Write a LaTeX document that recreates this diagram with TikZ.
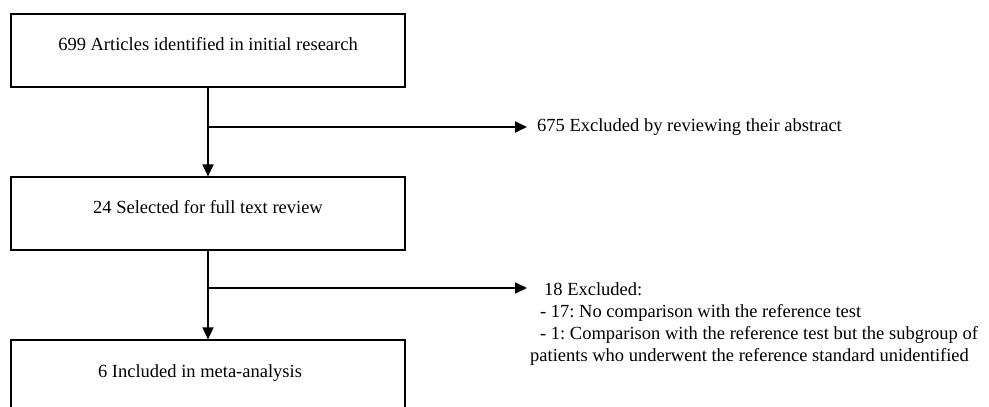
\documentclass[tikz,border=0pt]{standalone}
\usepackage{fontspec}
\setmainfont{Liberation Serif}
\usetikzlibrary{arrows.meta}
\frenchspacing
\begin{document}
\begin{tikzpicture}[x=1pt,y=-1pt,line join=miter,>={Triangle[length=12pt,width=11pt]},
	stagebox/.style={draw,line width=1.2pt,minimum width=394pt,minimum height=73pt,text height=13pt,text depth=13pt,inner sep=0pt},
	flow/.style={line width=1.8pt},
	every node/.style={font=\fontsize{18.5}{22.3}\selectfont}]
	\useasboundingbox (0,0) rectangle (989,407);
	\clip (0,0) rectangle (989,407);
	% boxes
	\node[stagebox] (ident) at (208,50.5) {699 Articles identified in initial research};
	\node[stagebox] (fulltext) at (208,213.5) {24 Selected for full text review};
	\node[stagebox,minimum height=96pt] (included) at (208,388) {};
	\node (includedtext) at (200,373) {6 Included in meta-analysis};
	% excluded notes
	\node[anchor=west,inner xsep=10pt] (excl1) at (527,127) {675 Excluded by reviewing their abstract};
	\node[anchor=north west,align=left,inner sep=3pt] (excl2) at (527,279) {\hspace*{14pt}18 Excluded:\\\hspace*{10pt}- 17: No comparison with the reference test\\\hspace*{10pt}- 1: Comparison with the reference test but the subgroup of\\patients who underwent the reference standard unidentified};
	% connectors
	\coordinate (b1) at (ident.south |- 0,127);
	\coordinate (b2) at (fulltext.south |- 0,288);
	\draw[flow,->] (ident.south) -- (fulltext.north);
	\draw[flow,->] (fulltext.south) -- (included.north);
	\draw[flow,->] (b1) -- (excl1.west);
	\draw[flow,->] (b2) -- (b2 -| excl2.west);
\end{tikzpicture}
\end{document}
